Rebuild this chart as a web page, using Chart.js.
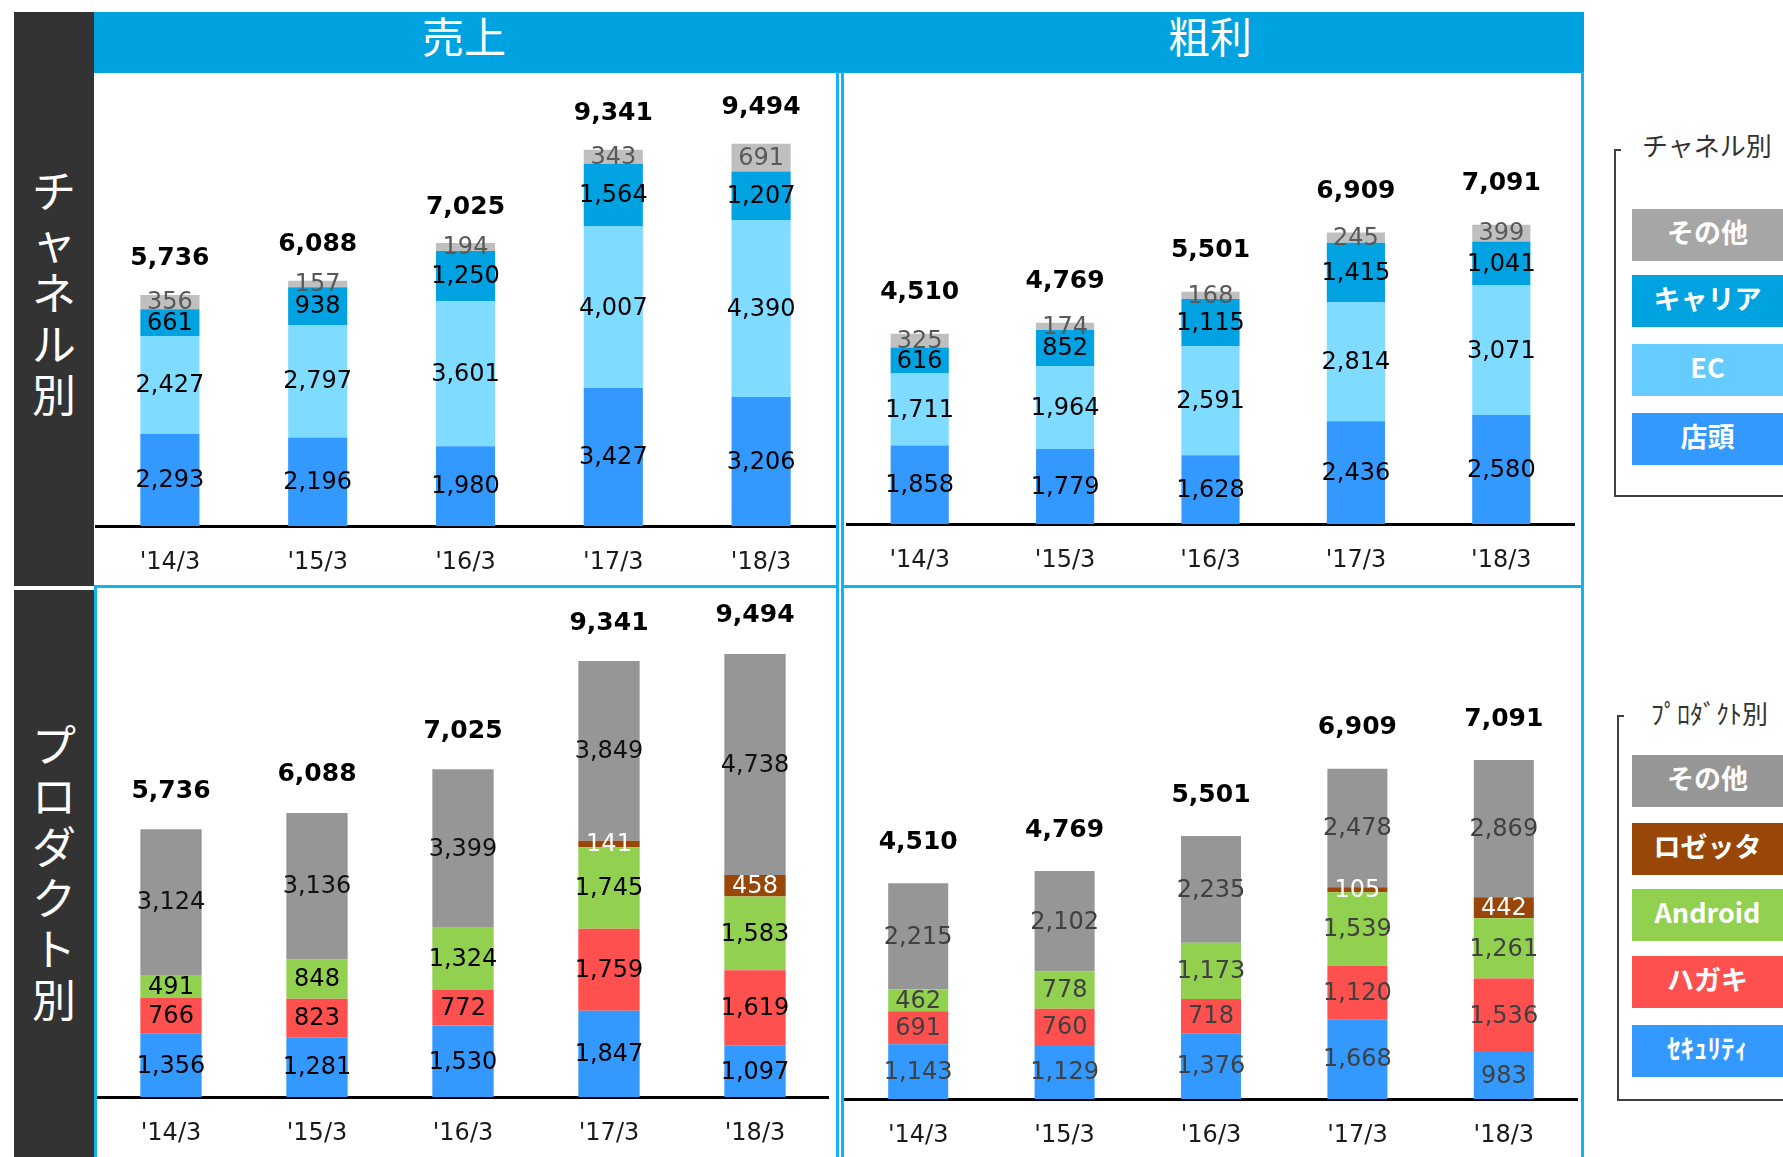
<!DOCTYPE html>
<html lang="ja">
<head>
<meta charset="UTF-8">
<title>チャネル別・プロダクト別 売上／粗利</title>
<script src="https://cdn.jsdelivr.net/npm/chart.js"></script>
<style>
  html, body { margin: 0; padding: 0; background: #fff; }
  body {
    width: 1783px; height: 1157px; position: relative; overflow: hidden;
    font-family: 'Noto Sans CJK JP', sans-serif;
  }
  .abs { position: absolute; }
  .side {
    left: 14px; width: 80px; background: #333;
    display: flex; align-items: center; justify-content: center;
  }
  .side div { color: #fff; font-size: 44px; line-height: 51px; text-align: center; width: 60px; }
  .head { left: 94px; top: 12px; width: 1490px; height: 61px; background: #00a3e0; }
  .head span {
    position: absolute; top: 0; line-height: 46px; font-size: 42px; color: #fff;
    transform: translateX(-50%);
  }
  .panel { box-sizing: border-box; border: 0 solid #14b2ee; }
  .bracket { border-left: 2px solid #404040; border-bottom: 2px solid #404040; box-sizing: border-box; }
  .tick { height: 2px; width: 7px; background: #404040; }
  .ltitle { font-size: 26px; color: #333; line-height: 30px; white-space: nowrap; }
  .lbox {
    left: 1632px; width: 151px; height: 52px; line-height: 46px;
    color: #fff; font-weight: bold; font-size: 27px; text-align: center;
  }
  canvas { position: absolute; }
</style>
</head>
<body>
  <div class="abs side" style="top:12px;height:574px"><div style="margin-bottom:16px">チ<br>ャ<br>ネ<br>ル<br>別</div></div>
  <div class="abs side" style="top:590px;height:567px"><div style="margin-bottom:6px">プ<br>ロ<br>ダ<br>ク<br>ト<br>別</div></div>

  <div class="abs head">
    <span style="left:370px">売上</span>
    <span style="left:1116px">粗利</span>
  </div>

  <div class="abs panel" style="left:94px;top:72px;width:745px;height:514px;border-right-width:3px"></div>
  <div class="abs panel" style="left:841px;top:72px;width:743px;height:514px;border-left-width:3px;border-right-width:3px"></div>
  <div class="abs panel" style="left:94px;top:585px;width:745px;height:600px;border-width:3px 3px 0 3px"></div>
  <div class="abs panel" style="left:841px;top:585px;width:743px;height:600px;border-width:3px 3px 0 3px"></div>

  <canvas id="chSales" style="left:94px;top:72px" width="745" height="514"></canvas>
  <canvas id="chGross" style="left:840px;top:72px" width="744" height="514"></canvas>
  <canvas id="prSales" style="left:94px;top:588px" width="745" height="569"></canvas>
  <canvas id="prGross" style="left:840px;top:588px" width="744" height="569"></canvas>

  <!-- チャネル別 legend -->
  <div class="abs bracket" style="left:1614px;top:150px;width:200px;height:347px"></div>
  <div class="abs tick" style="left:1614px;top:149px"></div>
  <div class="abs ltitle" style="left:1642px;top:130px">チャネル別</div>
  <div class="abs lbox" style="top:209px;background:#a6a6a6">その他</div>
  <div class="abs lbox" style="top:275px;background:#00a3e0">キャリア</div>
  <div class="abs lbox" style="top:344px;background:#66ccff">EC</div>
  <div class="abs lbox" style="top:413px;background:#3399ff">店頭</div>

  <!-- プロダクト別 legend -->
  <div class="abs bracket" style="left:1617px;top:716px;width:200px;height:385px"></div>
  <div class="abs tick" style="left:1617px;top:715px"></div>
  <div class="abs ltitle" style="left:1651px;top:698px">ﾌﾟﾛﾀﾞｸﾄ別</div>
  <div class="abs lbox" style="top:755px;background:#969696">その他</div>
  <div class="abs lbox" style="top:823px;background:#994708">ロゼッタ</div>
  <div class="abs lbox" style="top:889px;background:#92d050">Android</div>
  <div class="abs lbox" style="top:956px;background:#ff5050">ハガキ</div>
  <div class="abs lbox" style="top:1025px;background:#3399ff">ｾｷｭﾘﾃｨ</div>

<script>
  const years = ["'14/3", "'15/3", "'16/3", "'17/3", "'18/3"];

  // チャネル別 売上
  const chSalesStore   = [2293, 2196, 1980, 3427, 3206];
  const chSalesEC      = [2427, 2797, 3601, 4007, 4390];
  const chSalesCarrier = [661, 938, 1250, 1564, 1207];
  const chSalesOther   = [356, 157, 194, 343, 691];
  const chSalesTotal   = [5736, 6088, 7025, 9341, 9494];

  // チャネル別 粗利
  const chGrossStore   = [1858, 1779, 1628, 2436, 2580];
  const chGrossEC      = [1711, 1964, 2591, 2814, 3071];
  const chGrossCarrier = [616, 852, 1115, 1415, 1041];
  const chGrossOther   = [325, 174, 168, 245, 399];
  const chGrossTotal   = [4510, 4769, 5501, 6909, 7091];

  // プロダクト別 売上
  const prSalesSecurity = [1356, 1281, 1530, 1847, 1097];
  const prSalesHagaki   = [766, 823, 772, 1759, 1619];
  const prSalesAndroid  = [491, 848, 1324, 1745, 1583];
  const prSalesRosetta  = [0, 0, 0, 141, 458];
  const prSalesOther    = [3124, 3136, 3399, 3849, 4738];
  const prSalesTotal    = [5736, 6088, 7025, 9341, 9494];

  // プロダクト別 粗利
  const prGrossSecurity = [1143, 1129, 1376, 1668, 983];
  const prGrossHagaki   = [691, 760, 718, 1120, 1536];
  const prGrossAndroid  = [462, 778, 1173, 1539, 1261];
  const prGrossRosetta  = [0, 0, 0, 105, 442];
  const prGrossOther    = [2215, 2102, 2235, 2478, 2869];
  const prGrossTotal    = [4510, 4769, 5501, 6909, 7091];

  const fmt = v => String(v).replace(/\B(?=(\d{3})+(?!\d))/g, ',');

  // segment values in the middle of each block, totals above each stack
  const stackLabels = {
    id: 'stackLabels',
    afterDatasetsDraw(chart, args, opts) {
      const ctx = chart.ctx;
      ctx.save();
      ctx.textAlign = 'center';
      ctx.textBaseline = 'middle';
      ctx.font = '24px "DejaVu Sans"';
      chart.data.datasets.forEach((ds, i) => {
        const meta = chart.getDatasetMeta(i);
        ctx.fillStyle = ds.labelColor;
        meta.data.forEach((bar, j) => {
          const v = ds.data[j];
          if (!v) return;
          ctx.fillText(fmt(v), bar.x, (bar.y + bar.base) / 2 + 1);
        });
      });
      const y = chart.scales.y;
      ctx.font = 'bold 25px "DejaVu Sans"';
      ctx.fillStyle = '#000';
      opts.totals.forEach((t, j) => {
        let sum = 0;
        chart.data.datasets.forEach(ds => sum += ds.data[j]);
        const x = chart.getDatasetMeta(0).data[j].x;
        ctx.fillText(fmt(t), x, y.getPixelForValue(sum) - opts.gap);
      });
      ctx.restore();
    }
  };

  function ds(label, data, color, labelColor, barPct) {
    return {
      label: label, data: data, backgroundColor: color, labelColor: labelColor,
      borderWidth: 0, barPercentage: barPct, categoryPercentage: 1
    };
  }

  function makeChart(id, datasets, totals, o) {
    new Chart(document.getElementById(id), {
      type: 'bar',
      data: { labels: years, datasets: datasets },
      options: {
        responsive: false,
        animation: false,
        layout: { padding: { left: o.left, right: o.right, top: o.top, bottom: 0 } },
        plugins: {
          legend: { display: false },
          tooltip: { enabled: false },
          stackLabels: { totals: totals, gap: o.gap }
        },
        scales: {
          x: {
            stacked: true,
            grid: { display: false, drawTicks: false },
            border: { display: true, color: '#000', width: 3 },
            ticks: { color: '#1a1a1a', font: { family: 'DejaVu Sans', size: 24 }, padding: 22 },
            afterFit(scale) { scale.height = o.axis; }
          },
          y: { stacked: true, display: false, min: 0, max: o.max }
        }
      },
      plugins: [stackLabels]
    });
  }

  makeChart('chSales', [
    ds('店頭', chSalesStore, '#3399ff', '#000', 0.40),
    ds('EC', chSalesEC, '#7fdbff', '#000', 0.40),
    ds('キャリア', chSalesCarrier, '#00a2e2', '#000', 0.40),
    ds('その他', chSalesOther, '#bfbfbf', '#595959', 0.40)
  ], chSalesTotal, { left: 2, right: 4, top: 11, axis: 60, max: 11000, gap: 36 });

  makeChart('chGross', [
    ds('店頭', chGrossStore, '#3399ff', '#000', 0.40),
    ds('EC', chGrossEC, '#7fdbff', '#000', 0.40),
    ds('キャリア', chGrossCarrier, '#00a2e2', '#000', 0.40),
    ds('その他', chGrossOther, '#bfbfbf', '#595959', 0.40)
  ], chGrossTotal, { left: 7, right: 10, top: 30, axis: 62, max: 10000, gap: 41 });

  makeChart('prSales', [
    ds('セキュリティ', prSalesSecurity, '#3399ff', '#000', 0.42),
    ds('ハガキ', prSalesHagaki, '#ff5050', '#000', 0.42),
    ds('Android', prSalesAndroid, '#92d050', '#000', 0.42),
    ds('ロゼッタ', prSalesRosetta, '#994708', '#fff', 0.42),
    ds('その他', prSalesOther, '#969696', '#111', 0.42)
  ], prSalesTotal, { left: 4, right: 11, top: 19, axis: 60, max: 10500, gap: 38 });

  makeChart('prGross', [
    ds('セキュリティ', prGrossSecurity, '#3399ff', '#404040', 0.41),
    ds('ハガキ', prGrossHagaki, '#ff5050', '#404040', 0.41),
    ds('Android', prGrossAndroid, '#92d050', '#404040', 0.41),
    ds('ロゼッタ', prGrossRosetta, '#994708', '#fff', 0.41),
    ds('その他', prGrossOther, '#969696', '#404040', 0.41)
  ], prGrossTotal, { left: 5, right: 7, top: 33, axis: 58, max: 10000, gap: 41 });
</script>
</body>
</html>
